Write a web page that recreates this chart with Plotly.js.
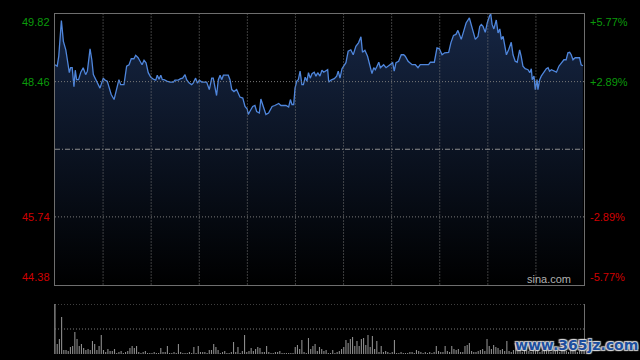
<!DOCTYPE html>
<html><head><meta charset="utf-8">
<script src="https://cdn.plot.ly/plotly-3.0.1.min.js"></script>
<style>html,body{margin:0;padding:0;background:#000;}#chart{width:640px;height:360px;}</style>
</head><body><div id="chart"></div>
<script>
// intraday minutes since open (0..240) and prices
const minutes = [
  0,1.0,1.7,2.9,3.8,4.9,5.6,6.5,7.1,7.8,
  8.6,9.2,9.8,10.7,11.7,12.8,13.9,14.7,15.9,16.7,
  17.4,18.5,19.6,20.4,21.9,22.7,23.7,24.5,25.5,26.8,
  28.0,29.0,29.8,31.3,32.5,33.6,34.6,35.8,36.6,37.7,
  38.6,39.5,40.4,41.3,42.3,43.4,44.6,45.7,46.4,47.2,
  48.0,48.7,49.5,50.7,52.2,53.7,54.4,55.9,57.0,57.9,
  59.0,59.7,60.9,62.0,62.7,63.8,64.6,65.5,66.6,68.8,
  70.0,71.1,71.8,72.6,73.3,74.1,74.9,75.6,76.4,78.6,
  79.4,80.2,81.2,82.4,83.2,83.9,85.2,86.2,87.2,87.7,
  88.4,89.7,90.7,91.5,92.7,93.4,94.5,95.7,96.9,97.5,
  98.5,99.7,101.5,102.5,104.8,106.0,106.8,107.5,108.3,108.9,
  109.7,110.4,111.2,112.0,112.7,113.5,114.3,115.0,115.8,116.6,
  117.6,118.4,119.2,120.2,121.1,121.9,122.9,123.7,124.2,125.2,
  126.7,127.8,128.5,129.3,130.2,131.1,132.0,133.0,134.2,135.3,
  136.5,137.7,138.8,139.5,140.6,141.8,142.9,143.8,144.6,145.3,
  146.1,146.9,147.6,148.4,149.1,150.2,151.4,152.1,153.2,153.9,
  154.7,155.9,157.1,158.2,158.9,160.2,161.2,162.0,163.5,164.7,
  165.7,168.0,169.5,170.3,172.1,173.3,174.4,175.6,176.8,178.6,
  179.6,180.8,181.9,182.8,183.4,184.3,185.4,186.5,188.0,188.9,
  190.0,190.7,191.9,192.7,193.4,194.2,195.2,196.1,197.2,197.7,
  198.3,199.1,200.2,201.0,201.8,202.5,203.3,204.0,204.8,205.8,
  207.0,207.8,208.8,209.7,210.8,211.5,212.3,213.3,214.6,215.4,
  216.1,216.5,217.3,217.9,218.7,219.1,219.9,220.6,221.9,222.9,
  223.7,224.4,225.2,226.4,227.5,228.6,229.7,230.9,231.9,232.7,
  233.5,234.2,235.0,236.0,237.2,238.0,238.7,239.5
];
const prices = [
  48.80,48.77,48.97,49.69,49.27,49.10,48.90,48.64,48.74,48.74,
  48.36,48.69,48.50,48.50,48.65,48.74,48.60,48.67,49.12,48.90,
  48.60,48.50,48.43,48.33,48.53,48.49,48.47,48.37,48.20,48.10,
  48.30,48.50,48.40,48.40,48.77,48.80,48.92,48.92,48.99,48.94,
  48.87,48.80,48.89,48.84,48.64,48.55,48.51,48.49,48.59,48.51,
  48.59,48.50,48.50,48.47,48.45,48.45,48.49,48.49,48.52,48.53,
  48.60,48.50,48.43,48.40,48.43,48.53,48.43,48.49,48.45,48.45,
  48.30,48.53,48.53,48.30,48.18,48.50,48.59,48.50,48.59,48.59,
  48.50,48.30,48.26,48.30,48.23,48.15,48.13,47.96,47.91,47.80,
  47.86,47.96,47.98,47.86,47.83,48.11,47.96,47.80,47.83,47.88,
  47.96,47.98,48.02,47.98,47.98,47.95,48.10,48.00,48.00,48.33,
  48.47,48.50,48.67,48.40,48.40,48.55,48.47,48.64,48.53,48.62,
  48.65,48.57,48.64,48.57,48.69,48.65,48.67,48.70,48.45,48.49,
  48.52,48.57,48.67,48.53,48.72,48.77,48.84,49.07,49.10,49.00,
  49.17,49.24,49.36,49.05,49.09,48.97,48.80,48.62,48.74,48.70,
  48.77,48.85,48.74,48.77,48.80,48.74,48.78,48.80,48.84,48.67,
  48.84,48.87,49.00,49.00,48.97,48.87,48.84,48.80,48.80,48.74,
  48.80,48.80,48.80,48.85,48.85,49.14,49.12,49.00,49.04,49.05,
  49.24,49.39,49.41,49.49,49.43,49.31,49.47,49.64,49.74,49.61,
  49.44,49.31,49.37,49.57,49.61,49.57,49.45,49.64,49.79,49.82,
  49.61,49.52,49.70,49.44,49.52,49.31,49.37,49.16,49.00,49.10,
  49.25,49.00,48.87,48.85,49.10,48.97,48.77,48.72,48.70,48.64,
  48.72,48.50,48.57,48.30,48.50,48.30,48.50,48.57,48.67,48.72,
  48.74,48.67,48.70,48.67,48.65,48.77,48.84,48.90,48.90,49.04,
  49.05,49.00,48.90,48.94,48.94,48.94,48.80,48.78
];
// per-minute volume (relative units)
const volumes = [
  50,10,15,37,4,4,3,7,8,22,
  15,8,10,6,4,5,4,13,10,4,
  8,19,4,2,5,3,3,5,1,2,
  3,1,2,3,6,8,6,8,2,1,
  2,3,1,1,1,2,1,1,6,2,
  2,8,1,1,2,1,10,2,1,1,
  1,2,1,7,1,8,2,2,2,1,
  4,4,10,7,4,1,2,3,1,1,
  2,12,2,7,1,3,19,2,3,6,
  3,5,7,6,2,2,8,2,1,1,
  2,2,3,1,1,1,1,1,1,7,
  9,5,14,2,1,16,5,8,10,3,
  7,5,3,4,1,1,4,1,2,3,
  5,7,14,11,15,17,8,13,8,15,
  16,9,19,7,18,5,13,2,8,2,
  3,2,1,2,14,1,1,2,1,1,
  1,2,2,1,4,3,2,1,2,1,
  2,1,2,8,3,2,2,8,3,2,
  8,5,4,5,2,2,8,9,11,3,
  2,2,3,4,5,3,15,8,5,9,
  7,6,4,5,3,13,3,2,4,11,
  3,5,2,4,6,3,2,4,3,5,
  2,3,6,4,3,2,5,3,4,2,
  3,6,3,2,4,3,5,2,3,4,3
];
const prevClose = 47.10;
const priceTicks = [49.82, 48.46, 45.74, 44.38];
const priceLabels = ['49.82', '48.46', '45.74', '44.38'];
const pctLabels = ['+5.77%', '+2.89%', '-2.89%', '-5.77%'];
const volMax = 50;
const sourceText = 'sina.com';
const watermarkText = 'www.365jz.com';

const volMinutes = volumes.map((_, i) => i);
const pMin = priceTicks[priceTicks.length - 1], pMax = priceTicks[0];

const traces = [
  {
    x: minutes, y: prices, type: 'scatter', mode: 'lines',
    line: {color: '#4f86dc', width: 1.3},
    fill: 'tozeroy',
    fillgradient: {type: 'vertical', start: pMin, stop: pMax,
      colorscale: [[0, 'rgb(0,0,0)'], [1, 'rgb(22,38,68)']]},
    xaxis: 'x', yaxis: 'y', hoverinfo: 'skip'
  },
  {
    x: volMinutes, y: volumes, type: 'bar', width: 0.5,
    marker: {color: '#8c8c8c', line: {width: 0}},
    xaxis: 'x2', yaxis: 'y2', hoverinfo: 'skip'
  }
];

const gridColor = '#7a7a7a';
const shapes = [];
for (let k = 1; k < 11; k++) {
  const xv = k * 240 / 11;
  shapes.push({type: 'line', xref: 'x', yref: 'y domain', x0: xv, x1: xv, y0: 0, y1: 1,
    line: {color: gridColor, width: 1, dash: '1px,2px'}, layer: 'above'});
}
[priceTicks[1], priceTicks[2]].forEach(v => shapes.push({type: 'line', xref: 'x domain', yref: 'y',
  x0: 0, x1: 1, y0: v, y1: v, line: {color: gridColor, width: 1, dash: '1px,2px'}, layer: 'above'}));
shapes.push({type: 'line', xref: 'x domain', yref: 'y', x0: 0, x1: 1, y0: prevClose, y1: prevClose,
  line: {color: '#8e8e8e', width: 1, dash: '5px,2px,1px,2px'}, layer: 'above'});
[volMax, volMax / 2].forEach(v => shapes.push({type: 'line', xref: 'x2 domain', yref: 'y2',
  x0: 0, x1: 1, y0: v, y1: v, line: {color: gridColor, width: 1, dash: '1px,2px'}, layer: 'above'}));

const labelFont = {family: 'Liberation Sans, Arial, sans-serif', size: 11};
const annotations = [];
priceTicks.forEach((v, i) => {
  const col = v > prevClose ? '#0b9a0b' : '#d00000';
  const ya = i === 0 ? 'top' : (i === priceTicks.length - 1 ? 'bottom' : 'middle');
  annotations.push({xref: 'paper', yref: 'y', x: 0, y: v, xanchor: 'right', yanchor: ya, xshift: -3,
    text: priceLabels[i], showarrow: false, font: Object.assign({color: col}, labelFont)});
  annotations.push({xref: 'paper', yref: 'y', x: 1, y: v, xanchor: 'left', yanchor: ya, xshift: 4,
    text: pctLabels[i], showarrow: false, font: Object.assign({color: col}, labelFont)});
});
annotations.push({xref: 'paper', yref: 'y', x: 0.979, y: pMin, xanchor: 'right', yanchor: 'bottom',
  yshift: -2, text: sourceText, showarrow: false,
  font: {family: 'Liberation Sans, Arial, sans-serif', size: 11, color: '#b0b0b0'}});
annotations.push({xref: 'paper', yref: 'paper', x: 0.985, y: 0.026, xanchor: 'center', yanchor: 'middle',
  text: watermarkText, showarrow: false,
  font: {family: 'DejaVu Sans, sans-serif', size: 14, weight: 'bold', color: '#1d4f9e',
    shadow: '-1px -1px 1px #d8d8d8, 1px -1px 1px #d8d8d8, -1px 1px 1px #d8d8d8, 1px 1px 1px #d8d8d8'}});

const axisCommon = {showgrid: false, zeroline: false, showticklabels: false, ticks: '', fixedrange: true};
const layout = {
  width: 640, height: 360,
  paper_bgcolor: '#000', plot_bgcolor: '#000',
  margin: {l: 55, r: 56, t: 14, b: 6},
  showlegend: false,
  xaxis: Object.assign({}, axisCommon, {domain: [0, 1], range: [0, 240], anchor: 'y',
    showline: true, mirror: true, linecolor: '#6e6e6e', linewidth: 1}),
  yaxis: Object.assign({}, axisCommon, {domain: [0.2044, 1], range: [pMin, pMax], anchor: 'x',
    showline: true, mirror: true, linecolor: '#6e6e6e', linewidth: 1}),
  xaxis2: Object.assign({}, axisCommon, {domain: [0, 1], range: [0, 240], anchor: 'y2', showline: false}),
  yaxis2: Object.assign({}, axisCommon, {domain: [0, 0.147], range: [0, volMax], anchor: 'x2',
    showline: true, mirror: true, linecolor: '#6e6e6e', linewidth: 1}),
  shapes: shapes,
  annotations: annotations
};
Plotly.newPlot('chart', traces, layout, {staticPlot: true, displayModeBar: false});
</script>
</body></html>
